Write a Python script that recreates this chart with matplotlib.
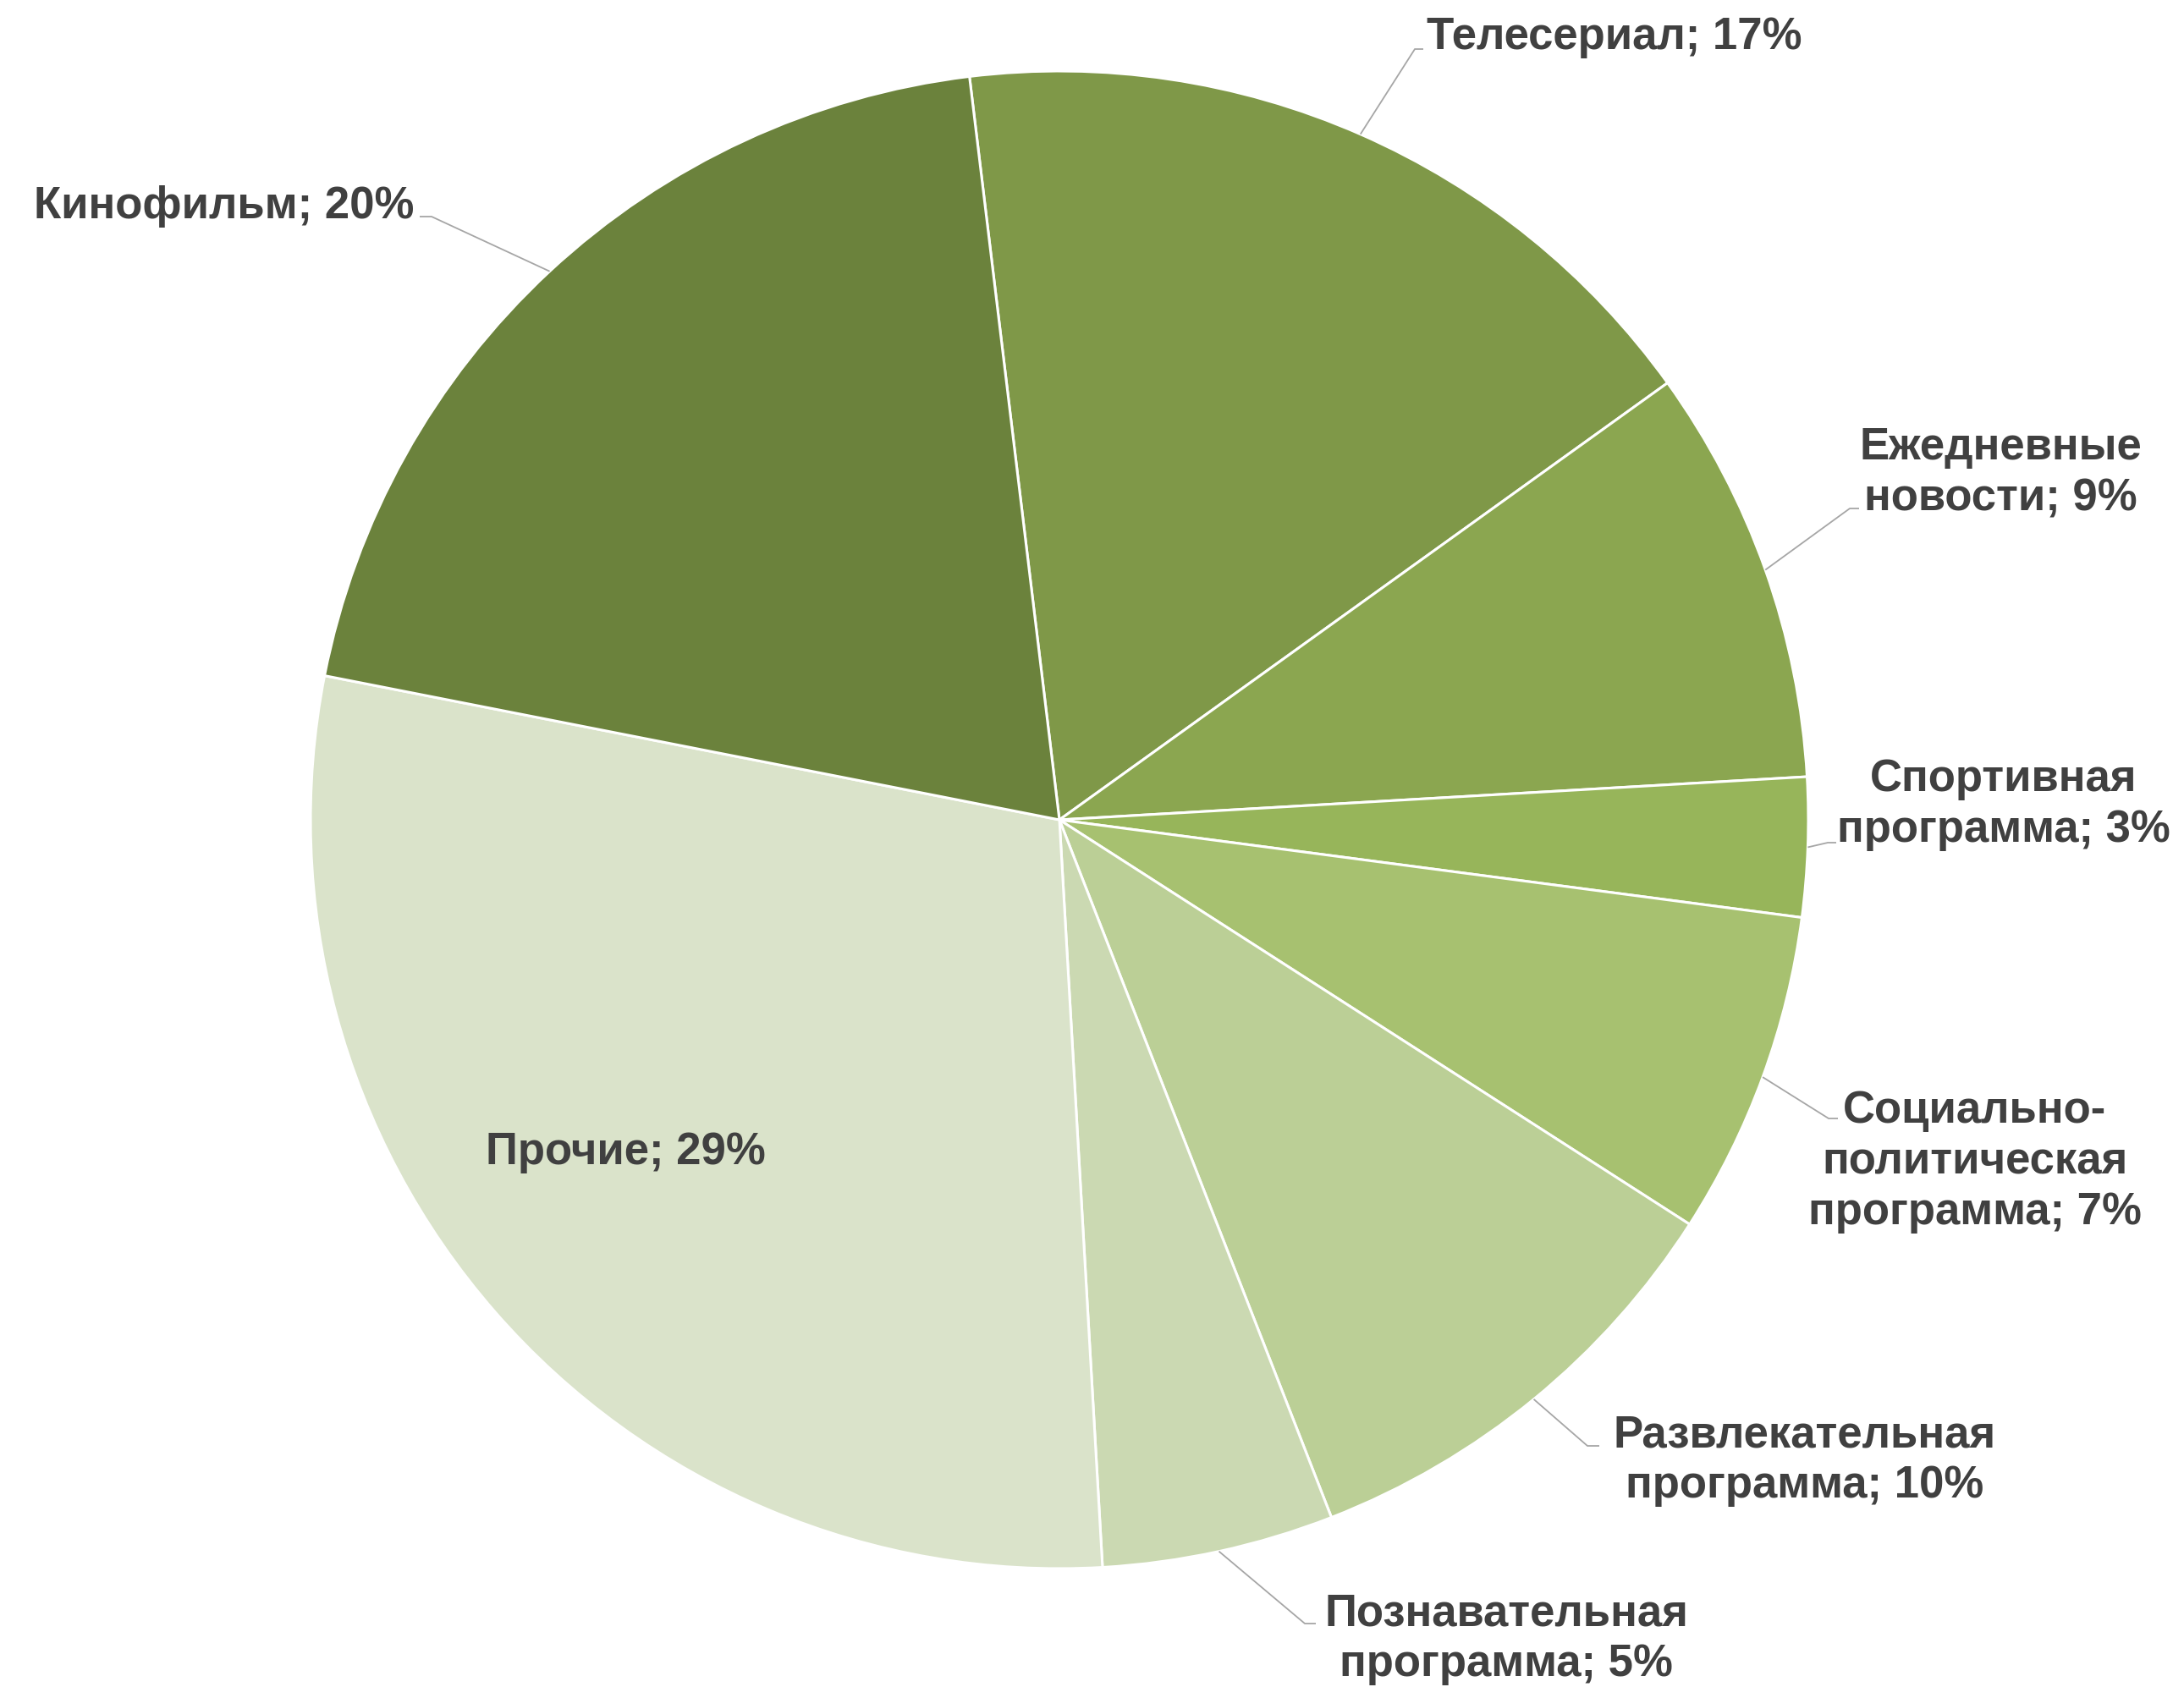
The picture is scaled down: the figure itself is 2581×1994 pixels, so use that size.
import numpy as np
import matplotlib
matplotlib.use("Agg")
import matplotlib.pyplot as plt

# canvas in pixels, the axes maps 1 data unit to 1 pixel
W, H = 2581, 1994

categories = ["Телесериал", "Ежедневные\nновости", "Спортивная\nпрограмма",
              "Социально-\nполитическая\nпрограмма", "Развлекательная\nпрограмма",
              "Познавательная\nпрограмма", "Прочие", "Кинофильм"]
shares = [17, 9, 3, 7, 10, 5, 29, 20]
colors = ["#7F9848", "#8BA650", "#97B55A", "#A7C170", "#BBCF96",
          "#CBD9B2", "#DAE3CA", "#6B823C"]

# label layout in image pixels (y from top): x, first baseline, align
label_pos = [(1686, 58, "left"), (2364, 543, "center"), (2368, 935, "center"),
             (2334, 1327, "center"), (2133, 1710, "center"), (1780, 1921, "center"),
             (739, 1376, "center"), (489, 258, "right")]
# leader elbow and end (image pixels), None = label inside the slice
leaders = [((1672, 58), (1682, 58)), ((2186, 601), (2197, 601)),
           ((2160, 996), (2170, 996)), ((2161, 1322), (2172, 1322)),
           ((1876, 1709), (1890, 1709)), ((1542, 1919), (1555, 1919)),
           None, ((510, 256), (496, 256))]

cx, cy, R = 1252, 969, 885
start = 96.9
line_step = 60
txt_color = "#404040"
lead_color = "#A6A6A6"


def fy(y):
    return H - y


fig = plt.figure(figsize=(W / 100, H / 100), dpi=100)
ax = fig.add_axes([0, 0, 1, 1])
ax.pie(shares, colors=colors, startangle=start, counterclock=False,
       center=(cx, fy(cy)), radius=R,
       wedgeprops=dict(edgecolor="white", linewidth=2.2))
ax.set_xlim(0, W)
ax.set_ylim(0, H)
ax.set_aspect("equal")
ax.axis("off")

bounds = start - 360 * np.cumsum([0] + shares) / sum(shares)
for i, (name, v) in enumerate(zip(categories, shares)):
    lines = (name + "; " + str(v) + "%").split("\n")
    x, y0, ha = label_pos[i]
    for k, ln in enumerate(lines):
        ax.text(x, fy(y0 + k * line_step), ln, ha=ha, va="baseline",
                fontsize=38, fontweight="bold", color=txt_color,
                family=["Liberation Sans", "DejaVu Sans"])
    if leaders[i] is None:
        continue
    mid = np.deg2rad((bounds[i] + bounds[i + 1]) / 2)
    px, py = cx + R * np.cos(mid), cy - R * np.sin(mid)
    (ex, ey), (tx, ty) = leaders[i]
    ax.plot([px, ex, tx], [fy(py), fy(ey), fy(ty)], color=lead_color, lw=1.3,
            solid_capstyle="butt")

fig.savefig("out.png", dpi=100, facecolor="white")
